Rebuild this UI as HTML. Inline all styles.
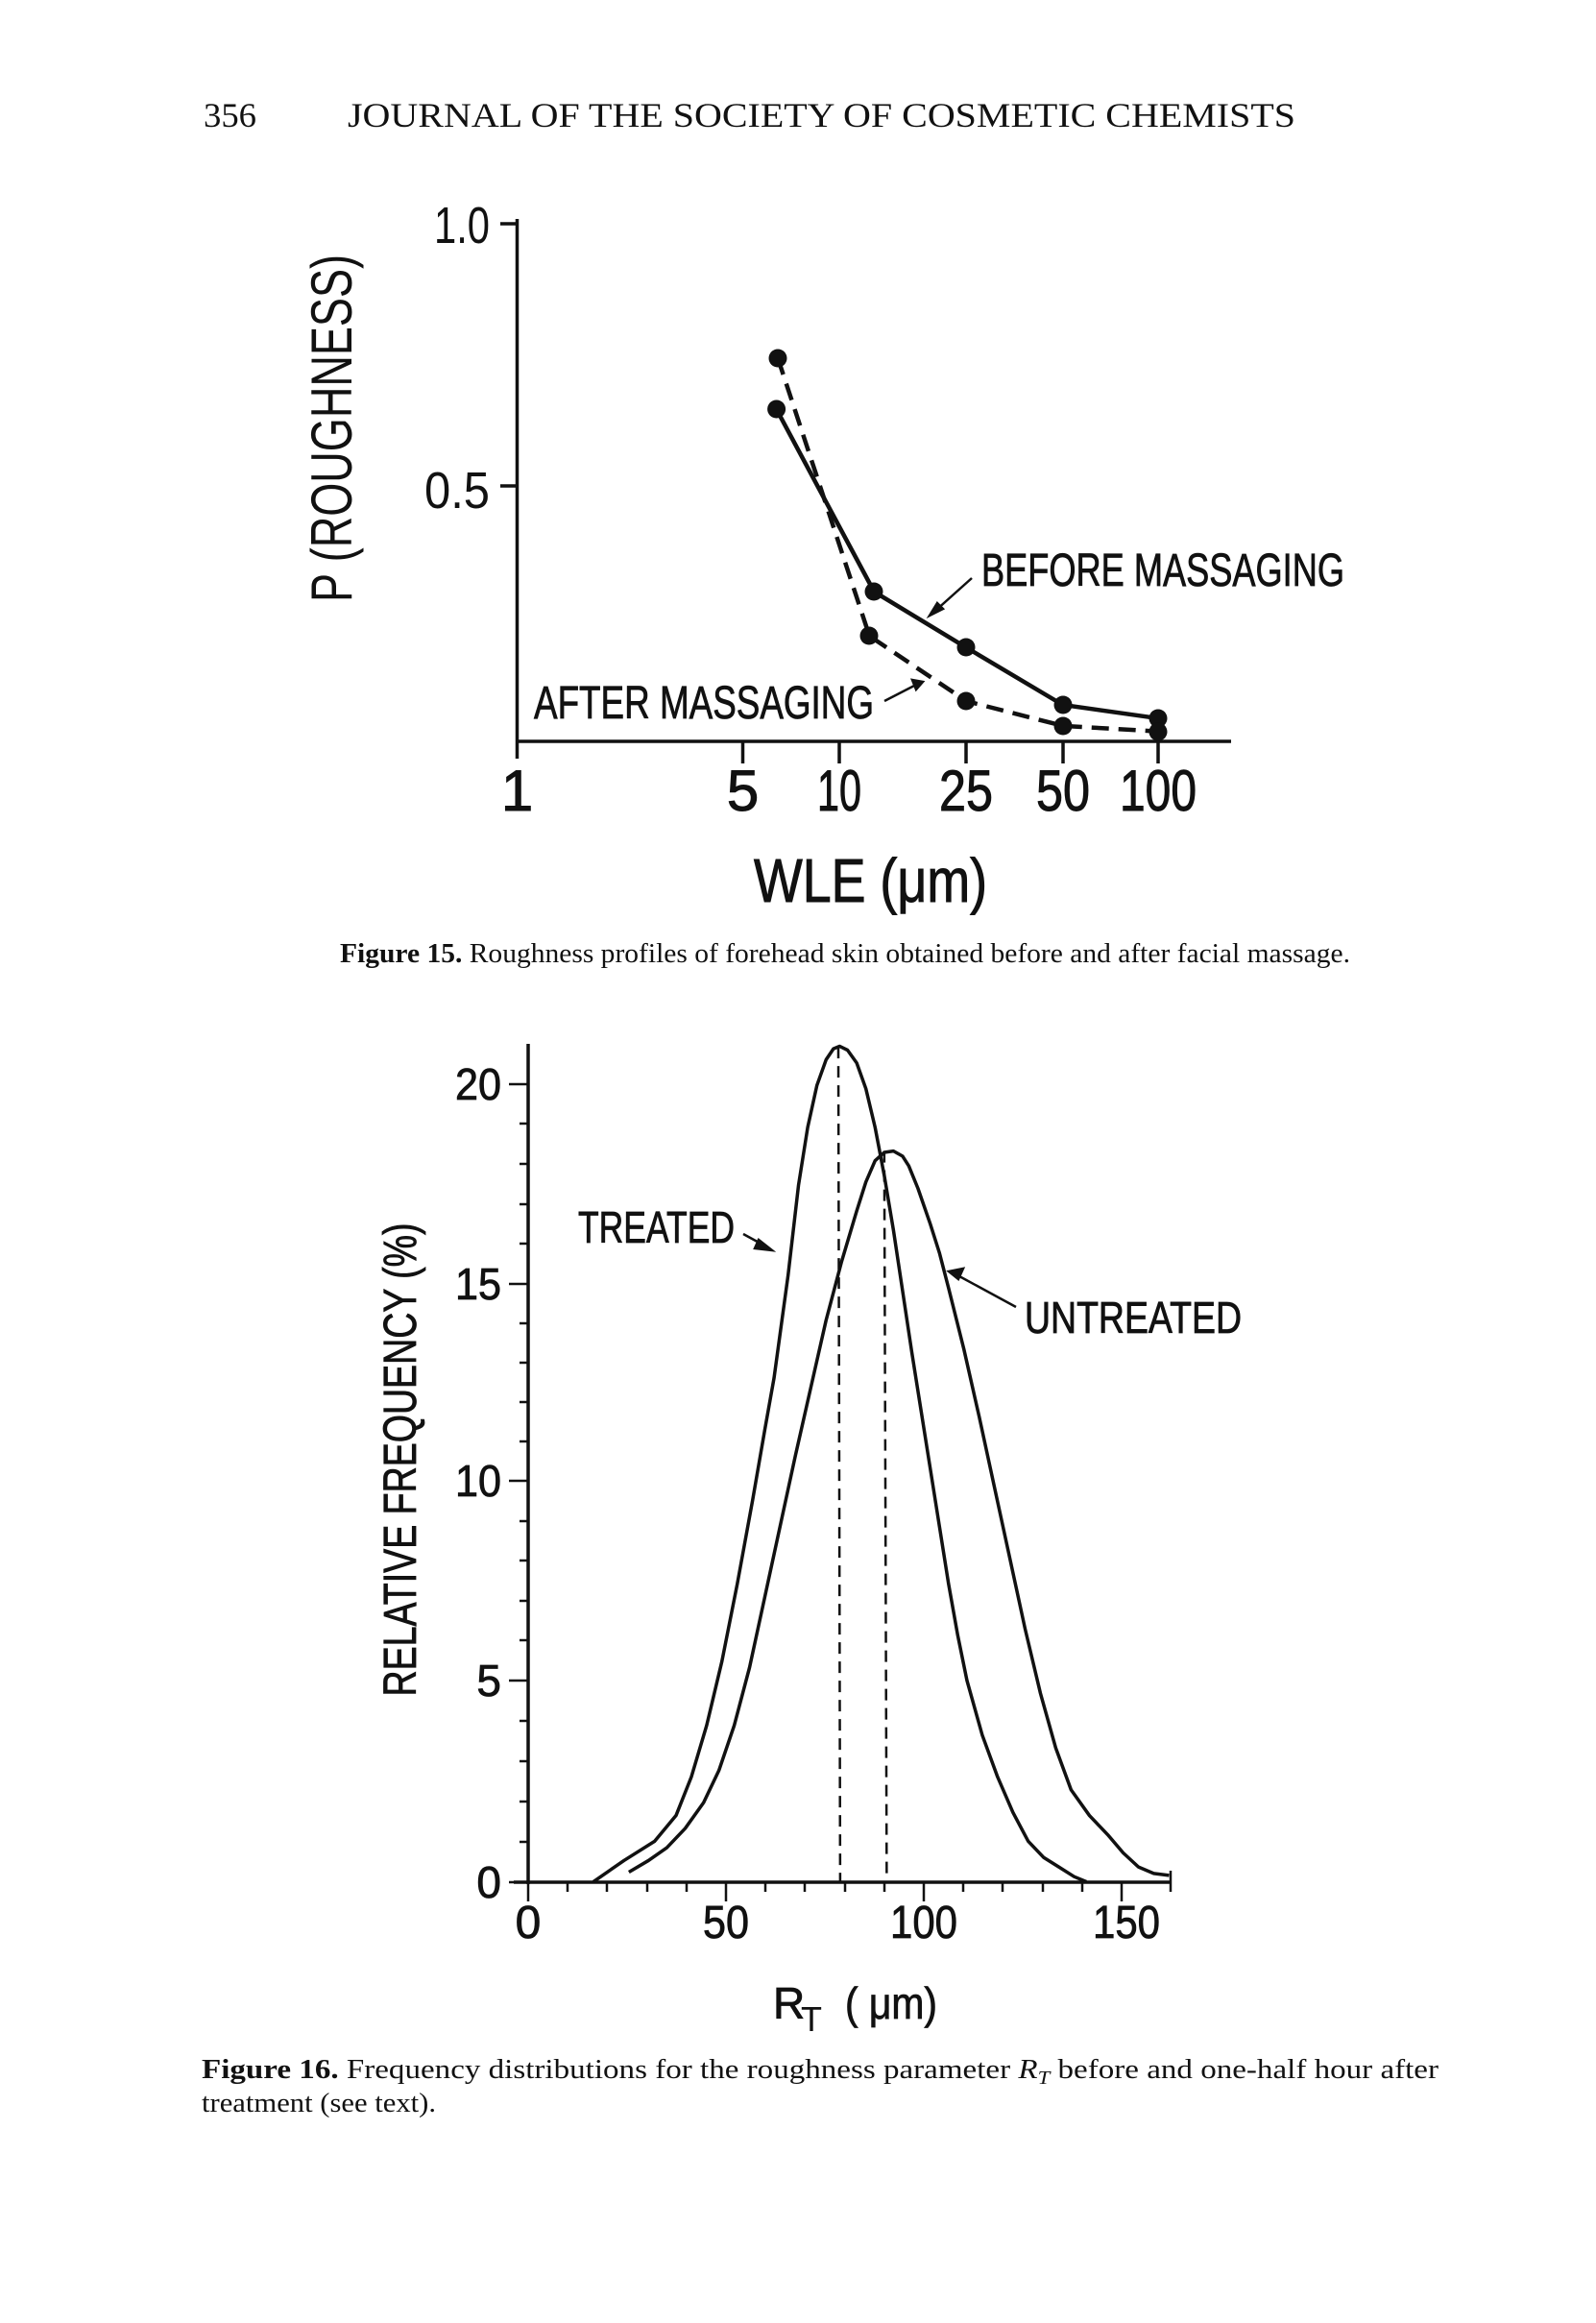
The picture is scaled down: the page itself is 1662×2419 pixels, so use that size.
<!DOCTYPE html>
<html><head><meta charset="utf-8"><style>
html,body{margin:0;padding:0;background:#fff;}
svg{display:block;}
.s{font-family:"Liberation Sans",sans-serif;fill:#111;}
.r{font-family:"Liberation Serif",serif;fill:#111;}
</style></head><body>
<svg width="1662" height="2419" viewBox="0 0 1662 2419" xmlns="http://www.w3.org/2000/svg">
<rect width="1662" height="2419" fill="#fff"/>
<!-- header -->
<text class="r" x="212" y="132" font-size="36" textLength="55" lengthAdjust="spacingAndGlyphs">356</text>
<text class="r" x="362" y="132" font-size="36" textLength="987" lengthAdjust="spacingAndGlyphs">JOURNAL OF THE SOCIETY OF COSMETIC CHEMISTS</text>

<!-- Figure 15 -->
<g stroke="#111" fill="none" stroke-width="3.5">
<line x1="538.5" y1="228" x2="538.5" y2="790"/>
<line x1="538.5" y1="772" x2="1282" y2="772"/>
<line x1="521" y1="233" x2="538.5" y2="233"/>
<line x1="521" y1="506" x2="538.5" y2="506"/>
<line x1="773.5" y1="772" x2="773.5" y2="795"/>
<line x1="874" y1="772" x2="874" y2="795"/>
<line x1="1006" y1="772" x2="1006" y2="795"/>
<line x1="1107" y1="772" x2="1107" y2="795"/>
<line x1="1206" y1="772" x2="1206" y2="795"/>
</g>
<g transform="translate(300,180) scale(0.7015,0.4847)" fill="none" stroke="#111">
<polyline vector-effect="non-scaling-stroke" stroke-width="4.5" points="725,508 870,900 1007,1020 1150,1143 1292,1172"/>
<polyline vector-effect="non-scaling-stroke" stroke-width="4.5" stroke-dasharray="18,10" points="727,398 863,995 1007,1135 1150,1188 1292,1200"/>
</g>
<g fill="#111">
<circle cx="808.6" cy="426" r="9.5"/><circle cx="910" cy="616" r="9.5"/><circle cx="1006" cy="674" r="9.5"/><circle cx="1107" cy="734" r="9.5"/><circle cx="1206" cy="748" r="9.5"/>
<circle cx="810" cy="373" r="9.5"/><circle cx="905" cy="662" r="9.5"/><circle cx="1006" cy="730" r="9.5"/><circle cx="1107" cy="756" r="9.5"/><circle cx="1206" cy="762" r="9.5"/>
</g>
<g stroke="#111" stroke-width="2.5" fill="#111">
<line x1="1012" y1="602" x2="974" y2="636"/><polygon points="968,641 976,628 982,634"/>
<line x1="921" y1="730" x2="954" y2="713"/><polygon points="961,710 950,708 954,718"/>
</g>
<text class="s" x="510" y="253" font-size="54" text-anchor="end" textLength="58" lengthAdjust="spacingAndGlyphs">1.0</text>
<text class="s" x="510" y="529" font-size="54" text-anchor="end" textLength="68" lengthAdjust="spacingAndGlyphs">0.5</text>
<g class="s" font-size="60" text-anchor="middle" stroke="#111" stroke-width="1">
<text x="538.5" y="844">1</text>
<text x="773.5" y="844">5</text>
<text x="874" y="844" textLength="46" lengthAdjust="spacingAndGlyphs">10</text>
<text x="1006" y="844" textLength="56" lengthAdjust="spacingAndGlyphs">25</text>
<text x="1107" y="844" textLength="56" lengthAdjust="spacingAndGlyphs">50</text>
<text x="1206" y="844" textLength="80" lengthAdjust="spacingAndGlyphs">100</text>
</g>
<text class="s" x="785" y="939" font-size="64" stroke="#111" stroke-width="1" textLength="243" lengthAdjust="spacingAndGlyphs">WLE (μm)</text>
<text class="s" transform="translate(366,446) rotate(-90)" x="0" y="0" font-size="60" text-anchor="middle" textLength="362" lengthAdjust="spacingAndGlyphs">P (ROUGHNESS)</text>
<text class="s" x="1022" y="610" font-size="48" stroke="#111" stroke-width="0.8" textLength="378" lengthAdjust="spacingAndGlyphs">BEFORE MASSAGING</text>
<text class="s" x="556" y="748" font-size="48" stroke="#111" stroke-width="0.8" textLength="354" lengthAdjust="spacingAndGlyphs">AFTER MASSAGING</text>
<text class="r" x="354" y="1002" font-size="29" textLength="1052" lengthAdjust="spacingAndGlyphs"><tspan font-weight="bold">Figure 15.</tspan> Roughness profiles of forehead skin obtained before and after facial massage.</text>

<!-- Figure 16 -->
<g stroke="#111" fill="none" stroke-width="3.5">
<line x1="550" y1="1087" x2="550" y2="1962"/>
<line x1="535" y1="1960" x2="1219" y2="1960"/>
<g stroke-width="2.5">
<line x1="530" y1="1129" x2="550" y2="1129"/><line x1="530" y1="1337" x2="550" y2="1337"/><line x1="530" y1="1542" x2="550" y2="1542"/><line x1="530" y1="1750" x2="550" y2="1750"/><line x1="530" y1="1960" x2="550" y2="1960"/>
<line x1="541" y1="1170" x2="550" y2="1170"/><line x1="541" y1="1212" x2="550" y2="1212"/><line x1="541" y1="1254" x2="550" y2="1254"/><line x1="541" y1="1295" x2="550" y2="1295"/>
<line x1="541" y1="1378" x2="550" y2="1378"/><line x1="541" y1="1419" x2="550" y2="1419"/><line x1="541" y1="1460" x2="550" y2="1460"/><line x1="541" y1="1501" x2="550" y2="1501"/>
<line x1="541" y1="1584" x2="550" y2="1584"/><line x1="541" y1="1625" x2="550" y2="1625"/><line x1="541" y1="1667" x2="550" y2="1667"/><line x1="541" y1="1708" x2="550" y2="1708"/>
<line x1="541" y1="1792" x2="550" y2="1792"/><line x1="541" y1="1834" x2="550" y2="1834"/><line x1="541" y1="1876" x2="550" y2="1876"/><line x1="541" y1="1918" x2="550" y2="1918"/>
<line x1="550" y1="1960" x2="550" y2="1980"/><line x1="756" y1="1960" x2="756" y2="1980"/><line x1="962" y1="1960" x2="962" y2="1980"/><line x1="1168" y1="1960" x2="1168" y2="1980"/><line x1="1219" y1="1948" x2="1219" y2="1970"/>
<line x1="591" y1="1960" x2="591" y2="1970"/><line x1="632" y1="1960" x2="632" y2="1970"/><line x1="674" y1="1960" x2="674" y2="1970"/><line x1="715" y1="1960" x2="715" y2="1970"/>
<line x1="797" y1="1960" x2="797" y2="1970"/><line x1="838" y1="1960" x2="838" y2="1970"/><line x1="880" y1="1960" x2="880" y2="1970"/><line x1="921" y1="1960" x2="921" y2="1970"/>
<line x1="1003" y1="1960" x2="1003" y2="1970"/><line x1="1044" y1="1960" x2="1044" y2="1970"/><line x1="1086" y1="1960" x2="1086" y2="1970"/><line x1="1127" y1="1960" x2="1127" y2="1970"/>
</g>
</g>
<g transform="translate(350,1060) scale(0.6378,0.6698)" fill="none" stroke="#111">
<polyline vector-effect="non-scaling-stroke" stroke-width="3.5" stroke-linejoin="round" points="420,1343 470,1310 520,1280 555,1240 580,1180 605,1100 630,1000 655,880 680,750 700,640 715,560 738,400 755,260 770,170 785,105 800,65 812,48 822,44 835,50 850,70 865,110 880,170 895,245 910,330 925,425 940,520 955,610 970,700 985,790 1000,880 1015,960 1030,1030 1055,1115 1080,1180 1105,1235 1130,1280 1155,1305 1180,1320 1205,1335 1225,1343"/>
<polyline vector-effect="non-scaling-stroke" stroke-width="3.5" stroke-linejoin="round" points="478,1328 510,1310 540,1290 570,1260 600,1220 625,1170 650,1100 675,1010 700,900 725,790 750,680 775,575 800,470 825,380 850,300 865,255 880,222 895,209 910,207 925,215 935,230 950,265 970,320 985,365 1000,420 1025,515 1050,620 1075,730 1100,840 1125,950 1150,1050 1175,1135 1200,1200 1230,1240 1260,1270 1285,1298 1310,1320 1335,1330 1360,1333"/>
<line vector-effect="non-scaling-stroke" stroke-width="2.5" stroke-dasharray="12,8" x1="820" y1="45" x2="823" y2="1343"/>
<line vector-effect="non-scaling-stroke" stroke-width="2.5" stroke-dasharray="12,8" x1="895" y1="207" x2="899" y2="1343"/>
</g>
<g stroke="#111" stroke-width="2.5" fill="#111">
<line x1="774" y1="1285" x2="796" y2="1297"/><polygon points="804,1302 790,1291 786,1300"/>
<line x1="1058" y1="1361" x2="999" y2="1329"/><polygon points="988,1324 1003,1321 998,1332"/>
</g>
<g class="s" font-size="46" text-anchor="end" stroke="#111" stroke-width="0.8">
<text x="522" y="1145" textLength="48" lengthAdjust="spacingAndGlyphs">20</text>
<text x="522" y="1353" textLength="48" lengthAdjust="spacingAndGlyphs">15</text>
<text x="522" y="1558" textLength="48" lengthAdjust="spacingAndGlyphs">10</text>
<text x="522" y="1766">5</text>
<text x="522" y="1976">0</text>
</g>
<g class="s" font-size="48" text-anchor="middle" stroke="#111" stroke-width="0.8">
<text x="550" y="2018">0</text>
<text x="756" y="2018" textLength="48" lengthAdjust="spacingAndGlyphs">50</text>
<text x="962" y="2018" textLength="70" lengthAdjust="spacingAndGlyphs">100</text>
<text x="1173" y="2018" textLength="70" lengthAdjust="spacingAndGlyphs">150</text>
</g>
<text class="s" x="602" y="1294" font-size="46" stroke="#111" stroke-width="0.8" textLength="163" lengthAdjust="spacingAndGlyphs">TREATED</text>
<text class="s" x="1067" y="1388" font-size="46" stroke="#111" stroke-width="0.8" textLength="226" lengthAdjust="spacingAndGlyphs">UNTREATED</text>
<text class="s" transform="translate(433,1520) rotate(-90)" x="0" y="0" font-size="48" stroke="#111" stroke-width="0.8" text-anchor="middle" textLength="493" lengthAdjust="spacingAndGlyphs">RELATIVE FREQUENCY (%)</text>
<text class="s" x="805" y="2102" font-size="46" stroke="#111" stroke-width="0.8">R</text>
<text class="s" x="834" y="2115" font-size="36">T</text>
<text class="s" x="880" y="2102" font-size="46" stroke="#111" stroke-width="0.8" textLength="96" lengthAdjust="spacingAndGlyphs">( μm)</text>
<text class="r" x="210" y="2164" font-size="29" textLength="1288" lengthAdjust="spacingAndGlyphs"><tspan font-weight="bold">Figure 16.</tspan> Frequency distributions for the roughness parameter <tspan font-style="italic">R<tspan font-size="20" dy="6">T</tspan></tspan><tspan dy="-6"> before and one-half hour after</tspan></text>
<text class="r" x="210" y="2199" font-size="29" textLength="244" lengthAdjust="spacingAndGlyphs">treatment (see text).</text>
</svg>
</body></html>
